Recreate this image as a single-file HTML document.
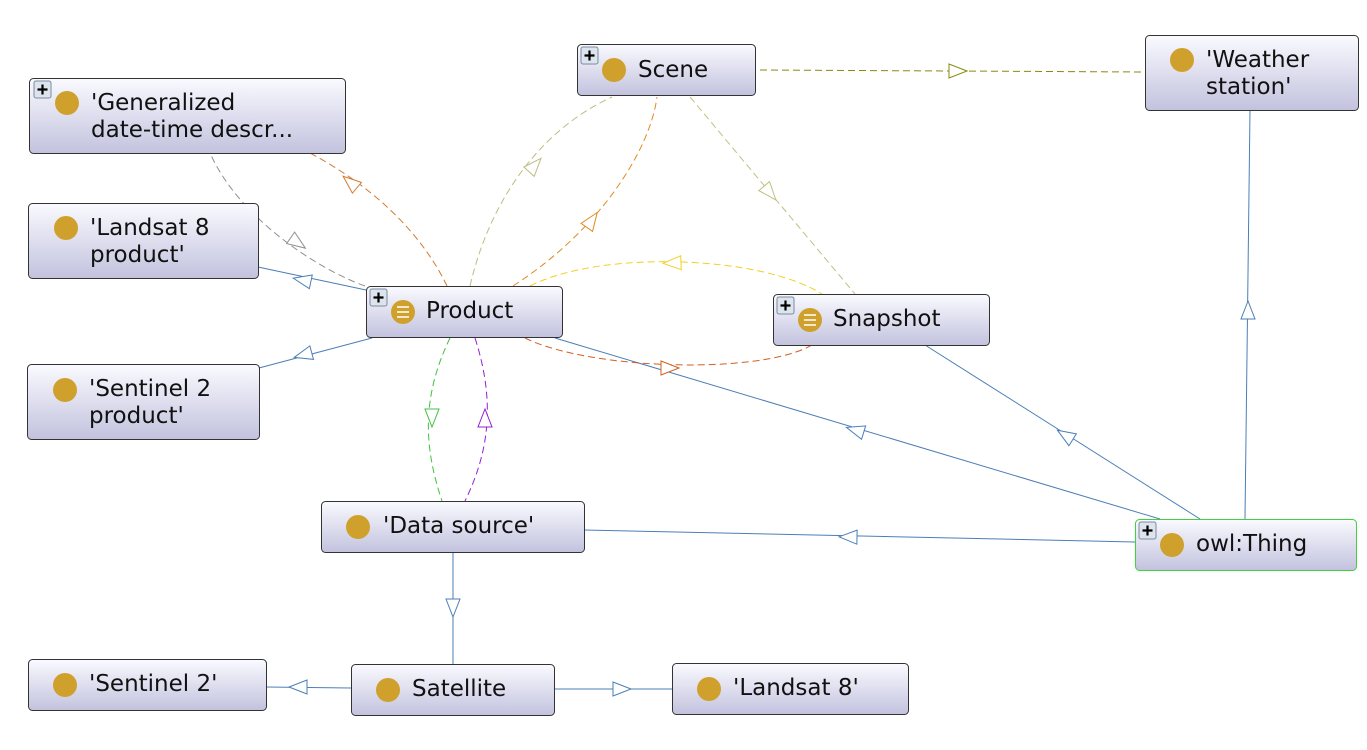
<!DOCTYPE html>
<html><head><meta charset="utf-8"><style>
html,body{margin:0;padding:0;background:#fff;}
svg{display:block;}
text{font-family:"DejaVu Sans","Liberation Sans",sans-serif;font-size:23px;fill:#111;}
</style></head><body>
<svg width="1367" height="750" viewBox="0 0 1367 750" xmlns="http://www.w3.org/2000/svg">
<defs>
<linearGradient id="g" x1="0" y1="0" x2="0" y2="1">
<stop offset="0" stop-color="#fafaff"/><stop offset="1" stop-color="#c2c2de"/>
</linearGradient>
<g id="plus"><rect x="0" y="0" width="17" height="17" rx="2" fill="#dde4ee" stroke="#7a8aa0"/><path d="M3.5 8.5H13.5M8.5 3.5V13.5" stroke="#000" stroke-width="2.2"/></g>
</defs>
<g fill="none" stroke-width="1">
<g stroke="#4a7fb5">
<line x1="258" y1="267" x2="366" y2="290"/>
<line x1="259" y1="368" x2="372" y2="338"/>
<line x1="555" y1="338" x2="1160" y2="519"/>
<line x1="925" y1="345" x2="1200" y2="519"/>
<line x1="1250" y1="110" x2="1245" y2="519"/>
<line x1="584" y1="530" x2="1135" y2="542"/>
<line x1="453" y1="552" x2="453" y2="664"/>
<line x1="351" y1="688" x2="266" y2="687"/>
<line x1="554" y1="689" x2="672" y2="689"/>
</g>
<g stroke-dasharray="7,4">
<line x1="760" y1="70" x2="1143" y2="72" stroke="#8a8a10"/>
<path d="M447,286 C420,230 370,185 310,153" stroke="#d07a30"/>
<path d="M365,286 C320,270 240,220 210,153" stroke="#909090"/>
<path d="M470,286 C490,200 540,130 612,97" stroke="#bcbc80"/>
<path d="M513,286 C600,230 650,150 657,97" stroke="#e08a20"/>
<path d="M690,97 L855,294" stroke="#c0c080"/>
<path d="M530,286 C600,250 760,255 822,294" stroke="#f0d020"/>
<path d="M525,338 C590,370 760,375 812,345" stroke="#d06020"/>
<path d="M450,338 C420,400 425,450 442,501" stroke="#40c040"/>
<path d="M475,338 C495,400 490,450 465,501" stroke="#9020d0"/>
</g>
</g>
<g fill="#fff">
<polygon points="9,0 -9,-7 -9,7" transform="translate(958,71) rotate(0)" stroke="#8a8a10"/>
<polygon points="9,0 -9,-7 -9,7" transform="translate(350,182) rotate(-140)" stroke="#d07a30"/>
<polygon points="9,0 -9,-7 -9,7" transform="translate(298,243) rotate(35)" stroke="#909090"/>
<polygon points="9,0 -9,-7 -9,7" transform="translate(302,280) rotate(-168)" stroke="#4a7fb5"/>
<polygon points="9,0 -9,-7 -9,7" transform="translate(303,355) rotate(165)" stroke="#4a7fb5"/>
<polygon points="9,0 -9,-7 -9,7" transform="translate(535,165) rotate(-48)" stroke="#bcbc80"/>
<polygon points="9,0 -9,-7 -9,7" transform="translate(592,220) rotate(-55)" stroke="#e08a20"/>
<polygon points="9,0 -9,-7 -9,7" transform="translate(770,193) rotate(50)" stroke="#c0c080"/>
<polygon points="9,0 -9,-7 -9,7" transform="translate(672,263) rotate(178)" stroke="#f0d020"/>
<polygon points="9,0 -9,-7 -9,7" transform="translate(670,368) rotate(0)" stroke="#d06020"/>
<polygon points="9,0 -9,-7 -9,7" transform="translate(855,430) rotate(-163)" stroke="#4a7fb5"/>
<polygon points="9,0 -9,-7 -9,7" transform="translate(1065,435) rotate(-148)" stroke="#4a7fb5"/>
<polygon points="9,0 -9,-7 -9,7" transform="translate(1248,310) rotate(-90)" stroke="#4a7fb5"/>
<polygon points="9,0 -9,-7 -9,7" transform="translate(848,537) rotate(-179)" stroke="#4a7fb5"/>
<polygon points="9,0 -9,-7 -9,7" transform="translate(432,418) rotate(90)" stroke="#40c040"/>
<polygon points="9,0 -9,-7 -9,7" transform="translate(485,418) rotate(-90)" stroke="#9020d0"/>
<polygon points="9,0 -9,-7 -9,7" transform="translate(453,608) rotate(90)" stroke="#4a7fb5"/>
<polygon points="9,0 -9,-7 -9,7" transform="translate(298,687) rotate(180)" stroke="#4a7fb5"/>
<polygon points="9,0 -9,-7 -9,7" transform="translate(622,689) rotate(0)" stroke="#4a7fb5"/>
</g>
<g stroke="#333" fill="url(#g)">
<rect x="577.5" y="44.5" width="178" height="51" rx="4"/>
<rect x="1145.5" y="35.5" width="213" height="75" rx="4"/>
<rect x="29.5" y="78.5" width="316" height="75" rx="4"/>
<rect x="28.5" y="203.5" width="230" height="75" rx="4"/>
<rect x="366.5" y="286.5" width="196" height="51" rx="4"/>
<rect x="773.5" y="294.5" width="216" height="51" rx="4"/>
<rect x="27.5" y="364.5" width="232" height="75" rx="4"/>
<rect x="321.5" y="501.5" width="263" height="51" rx="4"/>
<rect x="1135.5" y="519.5" width="221" height="51" rx="4" stroke="#40d040"/>
<rect x="28.5" y="659.5" width="238" height="51" rx="4"/>
<rect x="351.5" y="664.5" width="203" height="51" rx="4"/>
<rect x="672.5" y="663.5" width="236" height="51" rx="4"/>
</g>
<g fill="#cfa02c">
<circle cx="614" cy="70" r="12"/>
<circle cx="1182" cy="60" r="12"/>
<circle cx="67" cy="103" r="12"/>
<circle cx="66" cy="228" r="12"/>
<circle cx="403" cy="312" r="12"/>
<circle cx="810" cy="320" r="12"/>
<circle cx="65" cy="390" r="12"/>
<circle cx="358" cy="527" r="12"/>
<circle cx="1172" cy="545" r="12"/>
<circle cx="65" cy="685" r="12"/>
<circle cx="388" cy="690" r="12"/>
<circle cx="709" cy="689" r="12"/>
</g>
<g stroke="#fff" stroke-width="1.6">
<path d="M397 307H409M397 312H409M397 317H409"/>
<path d="M804 315H816M804 320H816M804 325H816"/>
</g>
<use href="#plus" x="581" y="47"/>
<use href="#plus" x="34" y="81"/>
<use href="#plus" x="370" y="289"/>
<use href="#plus" x="777" y="297"/>
<use href="#plus" x="1139" y="522"/>
<text x="638" y="77">Scene</text>
<text x="1206" y="67">'Weather</text>
<text x="1206" y="94">station'</text>
<text x="91" y="110">'Generalized</text>
<text x="91" y="137">date-time descr...</text>
<text x="90" y="235">'Landsat 8</text>
<text x="90" y="262">product'</text>
<text x="426" y="318">Product</text>
<text x="833" y="326">Snapshot</text>
<text x="89" y="396">'Sentinel 2</text>
<text x="89" y="423">product'</text>
<text x="383" y="533">'Data source'</text>
<text x="1196" y="551">owl:Thing</text>
<text x="89" y="691">'Sentinel 2'</text>
<text x="412" y="696">Satellite</text>
<text x="733" y="695">'Landsat 8'</text>
</svg>
</body></html>
